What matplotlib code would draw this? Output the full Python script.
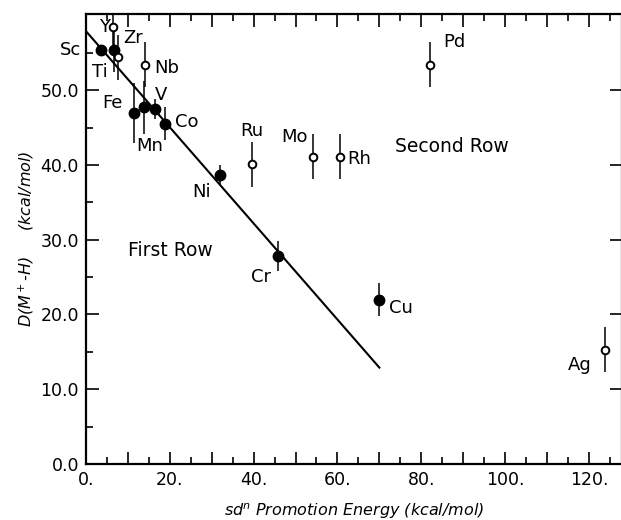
import matplotlib
matplotlib.use("Agg")
import matplotlib.pyplot as plt
from matplotlib.ticker import MultipleLocator, FixedLocator, FuncFormatter

# First-row metals (filled)
first_names = ["Sc", "Ti", "V", "Cr", "Mn", "Fe", "Co", "Ni", "Cu"]
first_x = [3.5, 6.7, 16.4, 45.8, 13.8, 11.5, 18.9, 32.0, 69.9]
first_y = [55.4, 55.4, 47.5, 27.8, 47.7, 47.0, 45.5, 38.7, 22.0]
first_err = [0.0, 3.0, 1.3, 2.0, 3.6, 4.0, 2.2, 1.3, 2.2]

# Second-row metals (open)
second_names = ["Y", "Zr", "Nb", "Mo", "Ru", "Rh", "Pd", "Ag"]
second_x = [6.4, 7.6, 14.0, 54.2, 39.7, 60.5, 82.0, 123.8]
second_y = [58.5, 54.4, 53.4, 41.1, 40.1, 41.1, 53.4, 15.3]
second_err = [2.5, 3.0, 3.0, 3.0, 3.0, 3.0, 3.0, 3.0]

# Fitted line endpoints
line_x = [0.0, 70.0]
line_y = [57.9, 12.9]

# Label positions (data coords)
label_pos = {
    "Sc": (-3.6, 55.4), "Ti": (3.3, 52.4), "Y": (4.5, 58.5), "Zr": (11.2, 57.0),
    "Nb": (19.3, 53.0), "Fe": (6.2, 48.3), "V": (17.8, 49.4), "Mn": (15.2, 42.6),
    "Co": (24.0, 45.8), "Ni": (27.6, 36.4), "Cr": (41.7, 25.0), "Cu": (75.1, 20.9),
    "Ag": (117.8, 13.2), "Ru": (39.6, 44.6), "Mo": (49.8, 43.8), "Rh": (65.1, 40.8),
    "Pd": (88.0, 56.5),
}

fig = plt.figure(figsize=(6.21, 5.20), dpi=100)
ax = fig.add_axes([86 / 621, 56 / 520, (622 - 86) / 621, 450 / 520])

ax.plot(line_x, line_y, color="black", lw=1.5, zorder=2)

ax.errorbar(first_x, first_y, yerr=first_err, fmt="o", color="black",
            ms=7.5, elinewidth=1.1, capsize=0, zorder=3)
ax.errorbar(second_x, second_y, yerr=second_err, fmt="o", color="black",
            mfc="white", mec="black", mew=1.4, ms=5.5, elinewidth=1.1,
            capsize=0, zorder=3)

for name, (lx, ly) in label_pos.items():
    ax.text(lx, ly, name, fontsize=13, ha="center", va="center", clip_on=False)

ax.text(87.3, 42.5, "Second Row", fontsize=13.5, ha="center", va="center")
ax.text(20.2, 28.6, "First Row", fontsize=13.5, ha="center", va="center")

ax.set_xlim(0, 127.9)
ax.set_ylim(0, 60.2)

ax.xaxis.set_major_locator(MultipleLocator(10))
ax.xaxis.set_minor_locator(MultipleLocator(5))
ax.xaxis.set_major_formatter(FuncFormatter(
    lambda v, p: f"{int(round(v))}." if round(v) % 20 == 0 else ""))
ax.yaxis.set_major_locator(FixedLocator([0, 10, 20, 30, 40, 50]))
ax.yaxis.set_minor_locator(FixedLocator([5, 15, 25, 35, 45, 55]))
ax.yaxis.set_major_formatter(FuncFormatter(lambda v, p: f"{v:.1f}"))

ax.tick_params(which="both", direction="in", top=True, right=True,
               width=1.2, labelsize=12.5)
ax.tick_params(which="major", length=9, pad=5)
ax.tick_params(which="minor", length=5)
ax.tick_params(axis="y", which="major", right=True)
ax.yaxis.set_tick_params(which="minor", right=False)

for s in ax.spines.values():
    s.set_linewidth(1.6)

ax.set_xlabel("sd$^n$ Promotion Energy (kcal/mol)", fontsize=11.5,
              style="italic", labelpad=9)
ax.set_ylabel("D(M$^+$-H)     (kcal/mol)", fontsize=11.5, style="italic",
              labelpad=3)

fig.savefig("out.png", dpi=100)
